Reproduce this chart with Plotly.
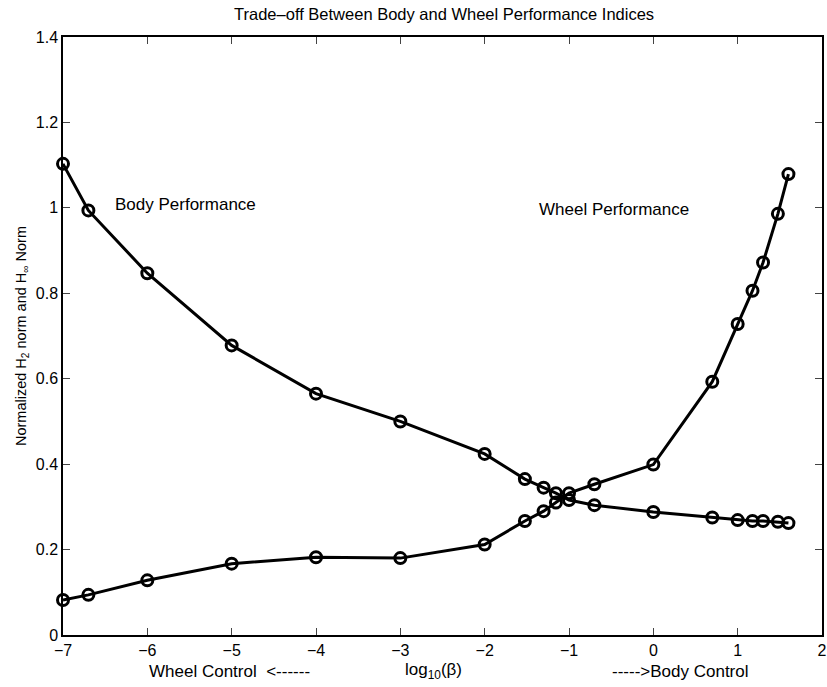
import plotly.graph_objects as go

beta_log = [-7, -6.699, -6, -5, -4, -3, -2, -1.523, -1.301, -1.155, -1,
            -0.699, 0, 0.699, 1, 1.176, 1.301, 1.477, 1.602]
body_perf = [1.103, 0.994, 0.847, 0.678, 0.565, 0.500, 0.424, 0.365, 0.345,
             0.332, 0.316, 0.304, 0.288, 0.275, 0.269, 0.267, 0.267, 0.265, 0.262]
wheel_perf = [0.082, 0.094, 0.128, 0.167, 0.182, 0.180, 0.212, 0.267, 0.290,
              0.310, 0.332, 0.353, 0.399, 0.593, 0.728, 0.806, 0.872, 0.986, 1.079]

x_ticks = [-7, -6, -5, -4, -3, -2, -1, 0, 1, 2]
x_tick_text = ["\u22127", "\u22126", "\u22125", "\u22124", "\u22123", "\u22122",
               "\u22121", "0", "1", "2"]
y_ticks = [0, 0.2, 0.4, 0.6, 0.8, 1, 1.2, 1.4]
y_tick_text = ["0", "0.2", "0.4", "0.6", "0.8", "1", "1.2", "1.4"]

FONT = "Liberation Sans, Arial, Helvetica, sans-serif"
L, R = 63, 822

fig = go.Figure()
for name, vals in [("Body Performance", body_perf), ("Wheel Performance", wheel_perf)]:
    fig.add_trace(go.Scatter(
        x=beta_log, y=vals, mode="lines+markers", name=name,
        line=dict(color="black", width=3),
        marker=dict(symbol="circle-open", size=11, color="black", line=dict(width=3)),
        showlegend=False, cliponaxis=False,
    ))

fig.update_layout(
    width=827, height=687,
    margin=dict(l=L, r=827 - R, t=37, b=52),
    paper_bgcolor="white", plot_bgcolor="white",
    font=dict(family=FONT, color="black", size=14),
    title=dict(text="Trade\u2013off Between Body and Wheel Performance Indices",
               x=0.537, xanchor="center", y=0.979, yanchor="middle",
               font=dict(size=16.5, family=FONT, color="black")),
)
fig.update_xaxes(
    range=[-7, 2], tickvals=x_ticks, ticktext=x_tick_text, ticks="inside",
    ticklen=7, tickwidth=1, ticklabeloverflow="allow", automargin=False,
    showline=True, linecolor="black", linewidth=1.5, mirror="ticks",
    showgrid=False, zeroline=False, tickfont=dict(size=16, family=FONT),
)
fig.update_yaxes(
    range=[0, 1.4], tickvals=y_ticks, ticktext=y_tick_text, ticks="inside",
    ticklen=7, tickwidth=1, showline=True, linecolor="black", linewidth=1.5,
    mirror="ticks", showgrid=False, zeroline=False, automargin=False,
    tickfont=dict(size=16, family=FONT),
    title=dict(text="Normalized H<sub>2</sub> norm and H<sub>\u221e</sub> Norm",
               font=dict(size=14.5, family=FONT), standoff=6),
)

ann = [
    dict(text="Body Performance", x=113, y=204, xanchor="left"),
    dict(text="Wheel Performance", x=537, y=209, xanchor="left"),
    dict(text="Wheel Control  <------", x=229, y=671, xanchor="center"),
    dict(text="log<sub>10</sub>(\u03b2)", x=433, y=671, xanchor="center"),
    dict(text="----->Body Control", x=680, y=671, xanchor="center"),
]
for a in ann:
    fig.add_annotation(
        text=a["text"], xref="paper", yref="paper",
        x=(a["x"] - L) / (R - L), y=(635 - a["y"]) / (635 - 37),
        xanchor=a["xanchor"], yanchor="middle", showarrow=False,
        font=dict(size=17, family=FONT, color="black"),
    )

fig.write_html("out.html")
